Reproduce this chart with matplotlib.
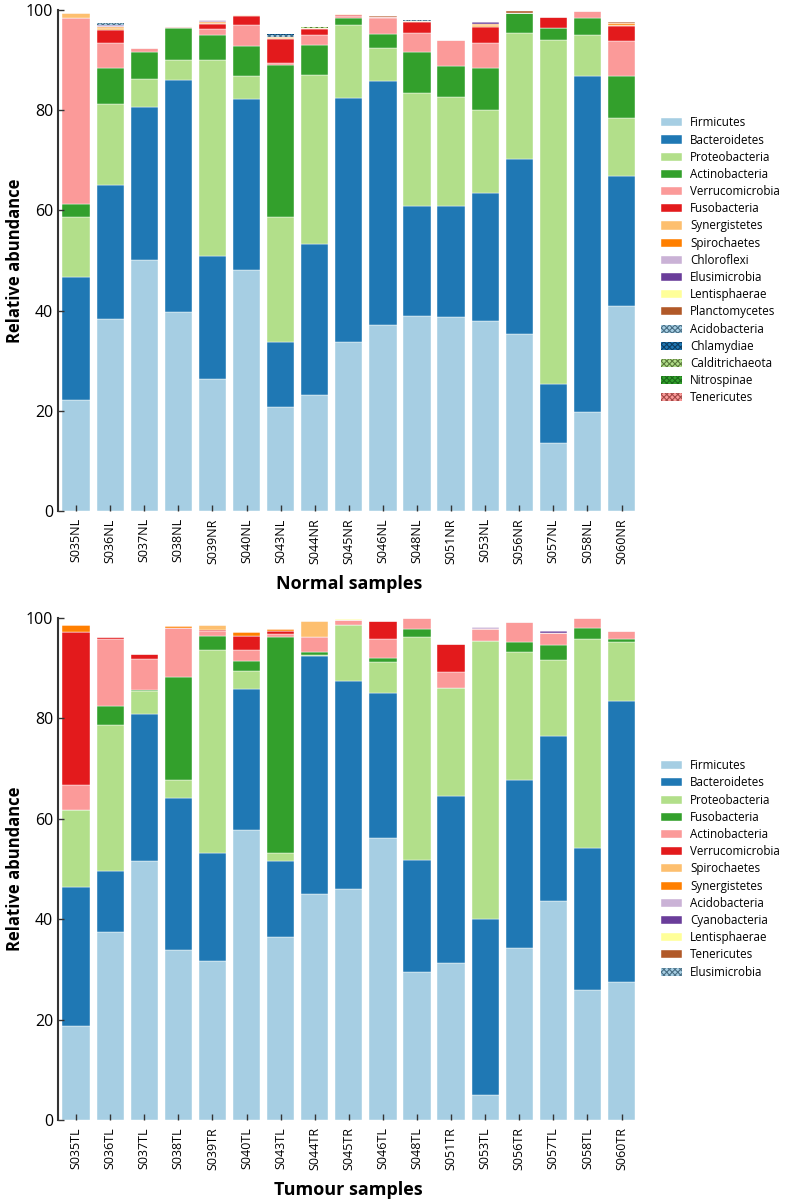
import matplotlib
matplotlib.use("Agg")
import matplotlib.pyplot as plt
import numpy as np

plt.rcParams['font.family'] = ['Open Sans', 'DejaVu Sans']
plt.rcParams['hatch.linewidth'] = 0.8

# ---------------- Normal samples ----------------
normal_samples = ["S035NL", "S036NL", "S037NL", "S038NL", "S039NR", "S040NL", "S043NL",
                  "S044NR", "S045NR", "S046NL", "S048NL", "S051NR", "S053NL", "S056NR",
                  "S057NL", "S058NL", "S060NR"]
normal_phyla = ["Firmicutes", "Bacteroidetes", "Proteobacteria", "Actinobacteria",
                "Verrucomicrobia", "Fusobacteria", "Synergistetes", "Spirochaetes",
                "Chloroflexi", "Elusimicrobia", "Lentisphaerae", "Planctomycetes",
                "Acidobacteria", "Chlamydiae", "Calditrichaeota", "Nitrospinae", "Tenericutes"]

n_firmicutes      = [22.1, 38.4, 50.1, 39.8, 26.3, 48.0, 20.8, 23.1, 33.8, 37.1, 38.9, 38.7, 37.9, 35.4, 13.6, 19.8, 40.9]
n_bacteroidetes   = [24.6, 26.7, 30.5, 46.2, 24.5, 34.2, 13.0, 30.1, 48.6, 48.7, 21.9, 22.1, 25.6, 34.8, 11.8, 67.0, 25.9]
n_proteobacteria  = [12.0, 16.0, 5.6, 4.0, 39.1, 4.6, 24.9, 33.7, 14.5, 6.6, 22.6, 21.7, 16.5, 25.1, 68.6, 8.2, 11.6]
n_actinobacteria  = [2.5, 7.2, 5.4, 6.4, 5.0, 6.0, 30.3, 6.1, 1.5, 2.7, 8.1, 6.2, 8.3, 4.0, 2.3, 3.3, 8.4]
n_verrucomicrobia = [37.1, 5.1, 0.8, 0.0, 1.3, 4.1, 0.3, 2.0, 0.4, 3.2, 3.9, 5.2, 5.1, 0.0, 0.0, 1.5, 7.0]
n_fusobacteria    = [0.0, 2.6, 0.0, 0.1, 1.0, 1.8, 4.8, 1.1, 0.2, 0.3, 2.1, 0.0, 3.1, 0.0, 2.3, 0.0, 2.9]
n_synergistetes   = [1.0, 0.3, 0.0, 0.1, 0.2, 0.2, 0.3, 0.2, 0.1, 0.0, 0.2, 0.0, 0.4, 0.0, 0.0, 0.0, 0.3]
n_spirochaetes    = [0.0, 0.3, 0.0, 0.0, 0.2, 0.0, 0.2, 0.0, 0.0, 0.0, 0.0, 0.0, 0.2, 0.0, 0.0, 0.0, 0.3]
n_chloroflexi     = [0.0, 0.2, 0.0, 0.0, 0.4, 0.0, 0.0, 0.0, 0.0, 0.0, 0.0, 0.0, 0.0, 0.0, 0.0, 0.0, 0.0]
n_elusimicrobia   = [0.0, 0.2, 0.0, 0.0, 0.0, 0.0, 0.0, 0.0, 0.0, 0.0, 0.0, 0.0, 0.4, 0.0, 0.0, 0.0, 0.0]
n_lentisphaerae   = [0.0, 0.0, 0.0, 0.0, 0.0, 0.0, 0.0, 0.0, 0.0, 0.0, 0.0, 0.0, 0.1, 0.0, 0.0, 0.0, 0.0]
n_planctomycetes  = [0.0, 0.0, 0.0, 0.0, 0.0, 0.0, 0.0, 0.0, 0.0, 0.1, 0.0, 0.0, 0.0, 0.4, 0.0, 0.0, 0.3]
n_acidobacteria   = [0.0, 0.3, 0.0, 0.0, 0.0, 0.0, 0.4, 0.0, 0.0, 0.0, 0.2, 0.0, 0.0, 0.0, 0.0, 0.0, 0.0]
n_chlamydiae      = [0.0, 0.0, 0.0, 0.0, 0.0, 0.0, 0.1, 0.0, 0.0, 0.0, 0.0, 0.0, 0.0, 0.0, 0.0, 0.0, 0.0]
n_calditrichaeota = [0.0, 0.0, 0.0, 0.0, 0.0, 0.0, 0.0, 0.2, 0.0, 0.0, 0.0, 0.0, 0.0, 0.0, 0.0, 0.0, 0.0]
n_nitrospinae     = [0.0, 0.0, 0.0, 0.0, 0.0, 0.0, 0.0, 0.0, 0.0, 0.0, 0.1, 0.0, 0.0, 0.0, 0.0, 0.0, 0.0]
n_tenericutes     = [0.0, 0.1, 0.0, 0.0, 0.0, 0.0, 0.0, 0.0, 0.0, 0.0, 0.0, 0.0, 0.0, 0.0, 0.0, 0.0, 0.0]

normal_values = [n_firmicutes, n_bacteroidetes, n_proteobacteria, n_actinobacteria,
                 n_verrucomicrobia, n_fusobacteria, n_synergistetes, n_spirochaetes,
                 n_chloroflexi, n_elusimicrobia, n_lentisphaerae, n_planctomycetes,
                 n_acidobacteria, n_chlamydiae, n_calditrichaeota, n_nitrospinae, n_tenericutes]

# ---------------- Tumour samples ----------------
tumour_samples = ["S035TL", "S036TL", "S037TL", "S038TL", "S039TR", "S040TL", "S043TL",
                  "S044TR", "S045TR", "S046TL", "S048TL", "S051TR", "S053TL", "S056TR",
                  "S057TL", "S058TL", "S060TR"]
tumour_phyla = ["Firmicutes", "Bacteroidetes", "Proteobacteria", "Fusobacteria",
                "Actinobacteria", "Verrucomicrobia", "Spirochaetes", "Synergistetes",
                "Acidobacteria", "Cyanobacteria", "Lentisphaerae", "Tenericutes", "Elusimicrobia"]

t_firmicutes      = [18.8, 37.4, 51.6, 33.8, 31.6, 57.7, 36.5, 45.0, 46.1, 56.2, 29.5, 31.2, 5.0, 34.2, 43.7, 25.8, 27.5]
t_bacteroidetes   = [27.7, 12.1, 29.2, 30.4, 21.6, 28.1, 15.0, 47.4, 41.3, 28.8, 22.2, 33.3, 35.0, 33.5, 32.7, 28.4, 55.9]
t_proteobacteria  = [15.3, 29.2, 4.6, 3.6, 40.5, 3.7, 1.7, 0.3, 11.3, 6.2, 44.5, 21.5, 55.4, 25.6, 15.3, 41.6, 11.9]
t_fusobacteria    = [0.0, 3.7, 0.3, 20.5, 2.8, 1.9, 43.0, 0.6, 0.0, 0.9, 1.6, 0.0, 0.0, 2.0, 3.0, 2.3, 0.6]
t_actinobacteria  = [5.0, 13.4, 6.1, 9.7, 1.0, 2.3, 0.6, 3.0, 1.0, 3.7, 2.2, 3.2, 2.4, 4.0, 2.4, 1.9, 1.6]
t_verrucomicrobia = [30.4, 0.4, 1.0, 0.0, 0.2, 2.8, 0.6, 0.0, 0.0, 3.7, 0.0, 5.6, 0.0, 0.0, 0.0, 0.0, 0.0]
t_spirochaetes    = [0.0, 0.0, 0.0, 0.0, 0.9, 0.0, 0.0, 3.1, 0.0, 0.0, 0.0, 0.0, 0.0, 0.0, 0.0, 0.0, 0.0]
t_synergistetes   = [1.5, 0.0, 0.0, 0.5, 0.0, 0.7, 0.4, 0.0, 0.0, 0.0, 0.0, 0.0, 0.0, 0.0, 0.0, 0.0, 0.0]
t_acidobacteria   = [0.0, 0.0, 0.0, 0.0, 0.0, 0.0, 0.0, 0.0, 0.0, 0.0, 0.0, 0.0, 0.5, 0.0, 0.0, 0.0, 0.0]
t_cyanobacteria   = [0.0, 0.0, 0.0, 0.0, 0.0, 0.0, 0.0, 0.0, 0.0, 0.0, 0.0, 0.0, 0.0, 0.0, 0.4, 0.0, 0.0]
t_lentisphaerae   = [0.0, 0.0, 0.0, 0.0, 0.0, 0.0, 0.0, 0.0, 0.1, 0.0, 0.0, 0.0, 0.0, 0.0, 0.0, 0.0, 0.0]
t_tenericutes     = [0.0, 0.0, 0.0, 0.0, 0.0, 0.0, 0.0, 0.1, 0.0, 0.0, 0.0, 0.0, 0.0, 0.0, 0.0, 0.0, 0.0]
t_elusimicrobia   = [0.0, 0.0, 0.0, 0.0, 0.0, 0.0, 0.0, 0.0, 0.0, 0.0, 0.0, 0.0, 0.0, 0.0, 0.0, 0.0, 0.0]

tumour_values = [t_firmicutes, t_bacteroidetes, t_proteobacteria, t_fusobacteria,
                 t_actinobacteria, t_verrucomicrobia, t_spirochaetes, t_synergistetes,
                 t_acidobacteria, t_cyanobacteria, t_lentisphaerae, t_tenericutes, t_elusimicrobia]

paired = ["#a6cee3", "#1f78b4", "#b2df8a", "#33a02c", "#fb9a99", "#e31a1c",
          "#fdbf6f", "#ff7f00", "#cab2d6", "#6a3d9a", "#ffff99", "#b15928"]
hatch_edges = ["#4a6f85", "#0d3d63", "#5a7a3a", "#1a6a18", "#a34a48"]


def style_for(i):
    if i < 12:
        return dict(color=paired[i], edgecolor="white", linewidth=0.3)
    j = i - 12
    return dict(facecolor=paired[j], edgecolor=hatch_edges[j], linewidth=0, hatch="xxxxxx")


def draw(ax, samples, phyla, values, xlabel):
    x = np.arange(len(samples))
    bottom = np.zeros(len(samples))
    for i, (name, vals) in enumerate(zip(phyla, values)):
        vals = np.array(vals)
        ax.bar(x, vals, width=0.8, bottom=bottom, label=name, **style_for(i))
        bottom += vals
    ax.set_xlim(-0.53, len(samples) - 0.47)
    ax.set_ylim(0, 100)
    ax.set_yticks([0, 20, 40, 60, 80, 100])
    ax.set_xticks(x)
    ax.set_xticklabels(samples, rotation=90, fontsize=9)
    ax.tick_params(axis="y", direction="in", labelsize=11.5, length=4, width=1, color="#333333")
    ax.tick_params(axis="x", direction="in", length=4, width=1, color="#333333", pad=5)
    for s in ["top", "right", "bottom"]:
        ax.spines[s].set_visible(False)
    ax.spines["left"].set_color("#333333")
    ax.spines["left"].set_linewidth(1.5)
    ax.set_ylabel("Relative abundance", fontsize=12, fontweight="bold", labelpad=1)
    ax.set_xlabel(xlabel, fontsize=13, fontweight="bold", labelpad=8)
    ax.legend(loc="center left", bbox_to_anchor=(1.022, 0.5), frameon=False,
              fontsize=8.4, handlelength=1.85, handleheight=0.7, labelspacing=0.36,
              handletextpad=0.7, borderpad=0.2)


fig = plt.figure(figsize=(7.87, 12.0), dpi=100)
ax1 = fig.add_axes([0.0737, 0.574, 0.739, 0.418])
ax2 = fig.add_axes([0.0737, 0.0667, 0.739, 0.4183])
draw(ax1, normal_samples, normal_phyla, normal_values, "Normal samples")
draw(ax2, tumour_samples, tumour_phyla, tumour_values, "Tumour samples")

fig.savefig("out.png", dpi=100)
